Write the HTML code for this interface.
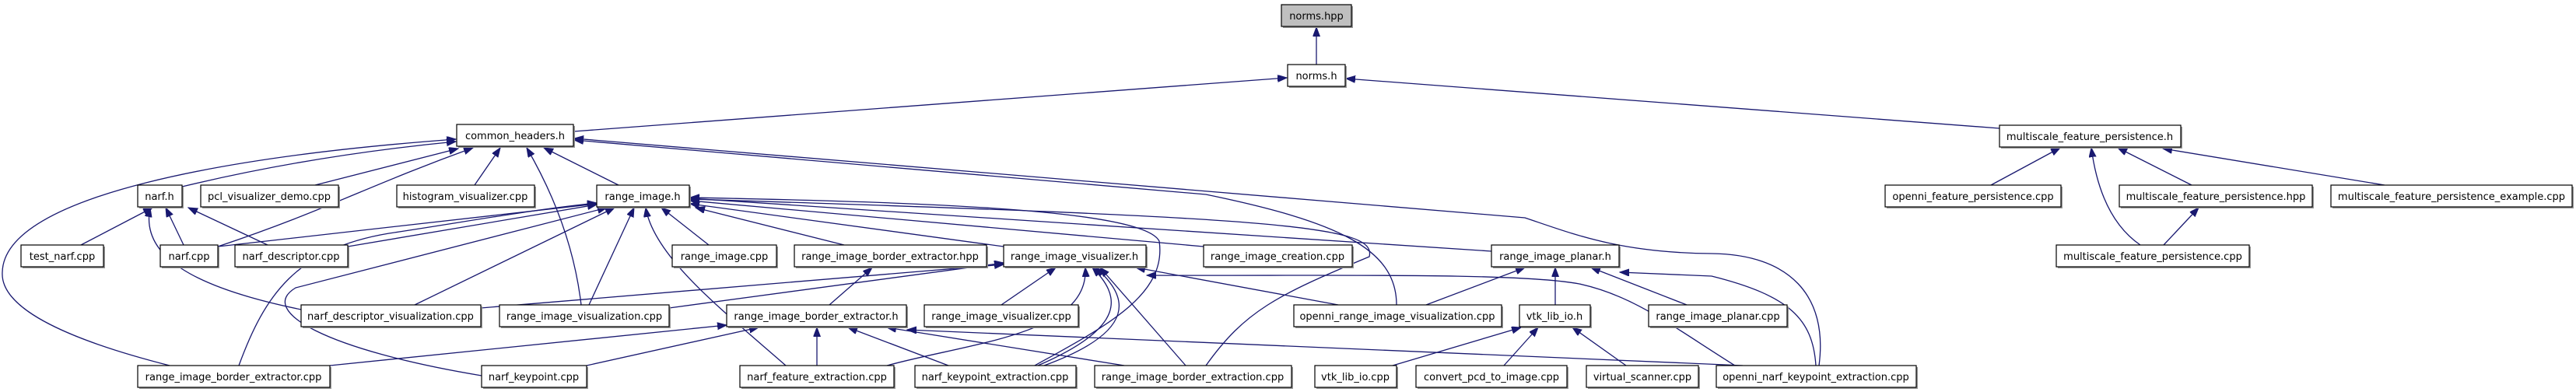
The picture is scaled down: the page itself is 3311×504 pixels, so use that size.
<!DOCTYPE html>
<html><head><meta charset="utf-8"><style>
html,body{margin:0;padding:0;background:#fff;}
svg{display:block;}
.n rect.b{fill:#fff;stroke:#000;stroke-width:1.2;}
.n rect.s{fill:#999;}
text{font-family:"DejaVu Sans","Liberation Sans",sans-serif;font-size:13px;fill:#000;}
path.e{fill:none;stroke:#191970;stroke-width:1.3;}
</style></head><body>
<svg width="3311" height="504" viewBox="0 0 3311 504" xmlns="http://www.w3.org/2000/svg">
<defs>
<marker id="a" markerUnits="userSpaceOnUse" markerWidth="13" markerHeight="10" refX="12" refY="4.5" orient="auto">
<path d="M0,0 L12,4.5 L0,9 z" fill="#191970" stroke="#191970" stroke-width="1"/>
</marker>
</defs>
<g marker-end="url(#a)">
<path class="e" d="M1692,83 L1692,35"/>
<path class="e" d="M737,169 L1654,100"/>
<path class="e" d="M2570,165 L1730,101"/>
<path class="e" d="M234,240 Q400,200 586,182"/>
<path class="e" d="M405,238 L589,191"/>
<path class="e" d="M280,317 C420,270 470,240 608,190"/>
<path class="e" d="M610,238 L643,190"/>
<path class="e" d="M747,392 Q735,290 677,190"/>
<path class="e" d="M795,238 L699,190"/>
<path class="e" d="M218,470 C100,440 0,400 3,350 C5,250 300,200 586,179"/>
<path class="e" d="M1795,392 C1795,320 1720,285 1550,250 L738,180"/>
<path class="e" d="M2338,470 C2350,380 2300,327 2200,326 C2080,325 2020,300 1960,280 L738,178"/>
<path class="e" d="M2559,238 L2648,190"/>
<path class="e" d="M2817,238 L2722,190"/>
<path class="e" d="M3065,238 L2780,191"/>
<path class="e" d="M2751,315 Q2700,280 2688,190"/>
<path class="e" d="M2781,315 L2826,267"/>
<path class="e" d="M104,315 L196,267"/>
<path class="e" d="M236,315 L213,267"/>
<path class="e" d="M344,315 L242,267"/>
<path class="e" d="M387,398 C250,370 180,330 193,267"/>
<path class="e" d="M280,317 L767,262"/>
<path class="e" d="M447,317 L767,263"/>
<path class="e" d="M307,470 C340,380 380,320 500,300 C600,285 680,270 767,261"/>
<path class="e" d="M619,483 C420,450 330,400 380,370 L780,267"/>
<path class="e" d="M533,392 L790,267"/>
<path class="e" d="M757,392 L815,267"/>
<path class="e" d="M1010,470 C930,400 840,330 830,267"/>
<path class="e" d="M911,315 L850,267"/>
<path class="e" d="M1085,315 L894,267"/>
<path class="e" d="M1290,317 L887,262"/>
<path class="e" d="M1547,317 L887,258"/>
<path class="e" d="M1917,323 L887,255"/>
<path class="e" d="M1330,470 C1420,420 1500,380 1490,310 C1470,270 1200,260 887,254"/>
<path class="e" d="M1550,470 C1600,400 1640,380 1760,330 C1770,290 1650,280 887,256"/>
<path class="e" d="M1066,392 L1121,344"/>
<path class="e" d="M618,396 L1290,340"/>
<path class="e" d="M860,396 L1290,338"/>
<path class="e" d="M1287,392 L1357,344"/>
<path class="e" d="M1140,470 C1250,440 1400,430 1395,344"/>
<path class="e" d="M1334,470 C1450,420 1440,380 1404,344"/>
<path class="e" d="M1342,470 C1465,425 1450,380 1408,344"/>
<path class="e" d="M1524,470 L1414,344"/>
<path class="e" d="M1720,392 L1460,344"/>
<path class="e" d="M2230,470 C2150,420 2100,380 2030,365 C1950,350 1700,355 1474,354"/>
<path class="e" d="M424,470 L934,418"/>
<path class="e" d="M754,470 L975,421"/>
<path class="e" d="M1050,470 L1050,421"/>
<path class="e" d="M1219,470 L1090,421"/>
<path class="e" d="M1445,470 L1140,421"/>
<path class="e" d="M2240,470 L1166,424"/>
<path class="e" d="M1833,392 L1960,344"/>
<path class="e" d="M1999,392 L1999,344"/>
<path class="e" d="M2168,392 L2045,344"/>
<path class="e" d="M2334,470 C2330,410 2300,380 2200,355 L2082,350"/>
<path class="e" d="M1790,470 L1955,421"/>
<path class="e" d="M1933,470 L1977,421"/>
<path class="e" d="M2090,470 L2021,421"/>
</g>

<g class="n">
<rect class="s" x="1649" y="8" width="90" height="28"/><rect x="1647" y="6" width="90" height="28" fill="#bfbfbf" stroke="#000" stroke-width="1.2"/><text x="1692" y="25" text-anchor="middle">norms.hpp</text>
<rect class="s" x="1657" y="85" width="74" height="28"/><rect class="b" x="1655" y="83" width="74" height="28"/><text x="1692" y="102" text-anchor="middle">norms.h</text>
<rect class="s" x="589" y="162" width="150" height="28"/><rect class="b" x="587" y="160" width="150" height="28"/><text x="662" y="179" text-anchor="middle">common_headers.h</text>
<rect class="s" x="2572" y="163" width="233" height="28"/><rect class="b" x="2570" y="161" width="233" height="28"/><text x="2686" y="180" text-anchor="middle">multiscale_feature_persistence.h</text>

<rect class="s" x="179" y="240" width="57" height="28"/><rect class="b" x="177" y="238" width="57" height="28"/><text x="205" y="257" text-anchor="middle">narf.h</text>
<rect class="s" x="260" y="240" width="177" height="28"/><rect class="b" x="258" y="238" width="177" height="28"/><text x="346" y="257" text-anchor="middle">pcl_visualizer_demo.cpp</text>
<rect class="s" x="512" y="240" width="177" height="28"/><rect class="b" x="510" y="238" width="177" height="28"/><text x="598" y="257" text-anchor="middle">histogram_visualizer.cpp</text>
<rect class="s" x="769" y="240" width="119" height="28"/><rect class="b" x="767" y="238" width="119" height="28"/><text x="826" y="257" text-anchor="middle">range_image.h</text>
<rect class="s" x="2425" y="240" width="226" height="28"/><rect class="b" x="2423" y="238" width="226" height="28"/><text x="2536" y="257" text-anchor="middle">openni_feature_persistence.cpp</text>
<rect class="s" x="2726" y="240" width="248" height="28"/><rect class="b" x="2724" y="238" width="248" height="28"/><text x="2848" y="257" text-anchor="middle">multiscale_feature_persistence.hpp</text>
<rect class="s" x="2998" y="240" width="310" height="28"/><rect class="b" x="2996" y="238" width="310" height="28"/><text x="3151" y="257" text-anchor="middle">multiscale_feature_persistence_example.cpp</text>

<rect class="s" x="29" y="317" width="106" height="28"/><rect class="b" x="27" y="315" width="106" height="28"/><text x="80" y="334" text-anchor="middle">test_narf.cpp</text>
<rect class="s" x="208" y="317" width="74" height="28"/><rect class="b" x="206" y="315" width="74" height="28"/><text x="243" y="334" text-anchor="middle">narf.cpp</text>
<rect class="s" x="304" y="317" width="145" height="28"/><rect class="b" x="302" y="315" width="145" height="28"/><text x="374" y="334" text-anchor="middle">narf_descriptor.cpp</text>
<rect class="s" x="866" y="317" width="134" height="28"/><rect class="b" x="864" y="315" width="134" height="28"/><text x="931" y="334" text-anchor="middle">range_image.cpp</text>
<rect class="s" x="1023" y="317" width="247" height="28"/><rect class="b" x="1021" y="315" width="247" height="28"/><text x="1144" y="334" text-anchor="middle">range_image_border_extractor.hpp</text>
<rect class="s" x="1292" y="317" width="183" height="28"/><rect class="b" x="1290" y="315" width="183" height="28"/><text x="1381" y="334" text-anchor="middle">range_image_visualizer.h</text>
<rect class="s" x="1549" y="317" width="191" height="28"/><rect class="b" x="1547" y="315" width="191" height="28"/><text x="1642" y="334" text-anchor="middle">range_image_creation.cpp</text>
<rect class="s" x="1919" y="317" width="164" height="28"/><rect class="b" x="1917" y="315" width="164" height="28"/><text x="1999" y="334" text-anchor="middle">range_image_planar.h</text>
<rect class="s" x="2645" y="317" width="248" height="28"/><rect class="b" x="2643" y="315" width="248" height="28"/><text x="2767" y="334" text-anchor="middle">multiscale_feature_persistence.cpp</text>

<rect class="s" x="389" y="394" width="231" height="28"/><rect class="b" x="387" y="392" width="231" height="28"/><text x="502" y="411" text-anchor="middle">narf_descriptor_visualization.cpp</text>
<rect class="s" x="644" y="394" width="218" height="28"/><rect class="b" x="642" y="392" width="218" height="28"/><text x="751" y="411" text-anchor="middle">range_image_visualization.cpp</text>
<rect class="s" x="936" y="394" width="231" height="28"/><rect class="b" x="934" y="392" width="231" height="28"/><text x="1049" y="411" text-anchor="middle">range_image_border_extractor.h</text>
<rect class="s" x="1190" y="394" width="198" height="28"/><rect class="b" x="1188" y="392" width="198" height="28"/><text x="1287" y="411" text-anchor="middle">range_image_visualizer.cpp</text>
<rect class="s" x="1665" y="394" width="267" height="28"/><rect class="b" x="1663" y="392" width="267" height="28"/><text x="1796" y="411" text-anchor="middle">openni_range_image_visualization.cpp</text>
<rect class="s" x="1955" y="394" width="91" height="28"/><rect class="b" x="1953" y="392" width="91" height="28"/><text x="1998" y="411" text-anchor="middle">vtk_lib_io.h</text>
<rect class="s" x="2121" y="394" width="178" height="28"/><rect class="b" x="2119" y="392" width="178" height="28"/><text x="2208" y="411" text-anchor="middle">range_image_planar.cpp</text>

<rect class="s" x="179" y="472" width="247" height="28"/><rect class="b" x="177" y="470" width="247" height="28"/><text x="300" y="489" text-anchor="middle">range_image_border_extractor.cpp</text>
<rect class="s" x="621" y="472" width="135" height="28"/><rect class="b" x="619" y="470" width="135" height="28"/><text x="686" y="489" text-anchor="middle">narf_keypoint.cpp</text>
<rect class="s" x="953" y="472" width="198" height="28"/><rect class="b" x="951" y="470" width="198" height="28"/><text x="1050" y="489" text-anchor="middle">narf_feature_extraction.cpp</text>
<rect class="s" x="1178" y="472" width="207" height="28"/><rect class="b" x="1176" y="470" width="207" height="28"/><text x="1279" y="489" text-anchor="middle">narf_keypoint_extraction.cpp</text>
<rect class="s" x="1409" y="472" width="253" height="28"/><rect class="b" x="1407" y="470" width="253" height="28"/><text x="1533" y="489" text-anchor="middle">range_image_border_extraction.cpp</text>
<rect class="s" x="1692" y="472" width="105" height="28"/><rect class="b" x="1690" y="470" width="105" height="28"/><text x="1742" y="489" text-anchor="middle">vtk_lib_io.cpp</text>
<rect class="s" x="1822" y="472" width="194" height="28"/><rect class="b" x="1820" y="470" width="194" height="28"/><text x="1917" y="489" text-anchor="middle">convert_pcd_to_image.cpp</text>
<rect class="s" x="2041" y="472" width="144" height="28"/><rect class="b" x="2039" y="470" width="144" height="28"/><text x="2111" y="489" text-anchor="middle">virtual_scanner.cpp</text>
<rect class="s" x="2208" y="472" width="257" height="28"/><rect class="b" x="2206" y="470" width="257" height="28"/><text x="2334" y="489" text-anchor="middle">openni_narf_keypoint_extraction.cpp</text>
</g>
</svg>
</body></html>
